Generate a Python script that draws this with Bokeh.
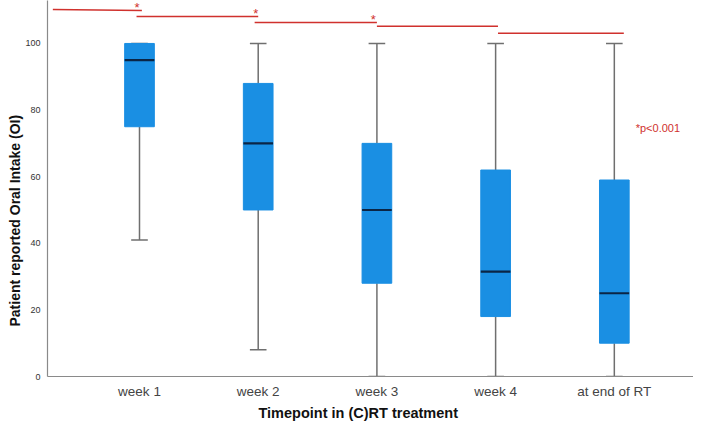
from bokeh.plotting import figure
from bokeh.models import Range1d, FixedTicker, Label, Title
from bokeh.embed import file_html
from bokeh.resources import INLINE
from bokeh.core.properties import value

categories = ["week 1", "week 2", "week 3", "week 4", "at end of RT"]
whisker_low = [41, 8, 0, 0, 0]
q1 = [75, 50, 28, 18, 10]
median = [95, 70, 50, 31.5, 25]
q3 = [100, 88, 70, 62, 59]
whisker_high = [100, 100, 100, 100, 100]

# significance brackets (start position, end position, height)
sig_x0 = [0.27, 0.975, 1.97, 3.0, 4.02]
sig_x1 = [1.02, 2.0, 3.0, 4.02, 5.08]
sig_y0 = [110.2, 108.1, 106.3, 105.2, 103.1]
sig_y1 = [109.9, 108.1, 106.3, 105.2, 103.1]
star_x = [0.98, 1.98, 2.97]
star_y = [110.9, 109.0, 107.3]
note_text = "*p<0.001"
note_x = 5.18
note_y = 74.6

x_title = "Timepoint in (C)RT treatment"
y_title = "Patient reported Oral Intake (OI)"

xs = list(range(1, len(categories) + 1))

p = figure(width=693, height=421, output_backend="svg", toolbar_location=None,
           x_range=Range1d(0.225, 5.667), y_range=Range1d(0, 112.9))
p.min_border_top = 0
p.min_border_right = 0
p.min_border_left = 47
p.min_border_bottom = 44
p.outline_line_color = None
p.xgrid.grid_line_color = None
p.ygrid.grid_line_color = None
p.background_fill_color = "white"

box_w = 0.25
cap_w = 0.14
blue = "#1a8fe3"
wcol = "#6f6f6f"

# whiskers
p.segment(x0=xs, y0=whisker_low, x1=xs, y1=q1, line_color=wcol, line_width=1.5)
p.segment(x0=xs, y0=q3, x1=xs, y1=whisker_high, line_color=wcol, line_width=1.5)
p.segment(x0=[x - cap_w / 2 for x in xs], y0=whisker_low, x1=[x + cap_w / 2 for x in xs], y1=whisker_low,
          line_color=wcol, line_width=1.5)
p.segment(x0=[x - cap_w / 2 for x in xs], y0=whisker_high, x1=[x + cap_w / 2 for x in xs], y1=whisker_high,
          line_color=wcol, line_width=1.5)
# boxes
p.vbar(x=xs, width=box_w, bottom=q1, top=q3, fill_color=blue, line_color=blue, line_width=1)
# medians
p.segment(x0=[x - box_w / 2 for x in xs], y0=median, x1=[x + box_w / 2 for x in xs], y1=median,
          line_color="#0b2545", line_width=2.2)

# significance lines
red = "#d0312d"
p.segment(x0=sig_x0, y0=sig_y0, x1=sig_x1, y1=sig_y1, line_color=red, line_width=1.5)
p.text(x=star_x, y=star_y, text=["*"] * len(star_x), text_color=red, text_font=value("Liberation Sans"),
       text_font_size="13px", text_align="center", text_baseline="middle")
p.add_layout(Label(x=note_x, y=note_y, text=note_text, text_color=red, text_font="Liberation Sans",
                   text_font_size="11px", text_baseline="middle"))

# axes
p.xaxis.ticker = FixedTicker(ticks=xs)
p.xaxis.major_label_overrides = {x: c for x, c in zip(xs, categories)}
p.yaxis.ticker = FixedTicker(ticks=[0, 20, 40, 60, 80, 100])
for ax in (p.xaxis, p.yaxis):
    ax.axis_line_color = "#8a8a8a"
    ax.axis_line_width = 1.2
    ax.major_tick_line_color = None
    ax.minor_tick_line_color = None
    ax.major_label_text_font = "Liberation Sans"

p.xaxis.major_label_text_font_size = "13.5px"
p.xaxis.major_label_text_color = "#444444"
p.xaxis.major_label_standoff = 1

p.yaxis.major_label_text_font_size = "9px"
p.yaxis.major_label_text_color = "#333333"
p.yaxis.major_label_standoff = 1

# axis titles as side titles, positioned with offsets
p.add_layout(Title(text=x_title, align="left", offset=211, standoff=2, text_font="Liberation Sans",
                   text_font_style="bold", text_font_size="14.5px", text_color="#111111"), "below")
p.add_layout(Title(text=y_title, align="left", offset=50, standoff=0, text_font="Liberation Sans",
                   text_font_style="bold", text_font_size="14px", text_color="#111111"), "left")

open("out.html", "w").write(file_html(p, INLINE))
